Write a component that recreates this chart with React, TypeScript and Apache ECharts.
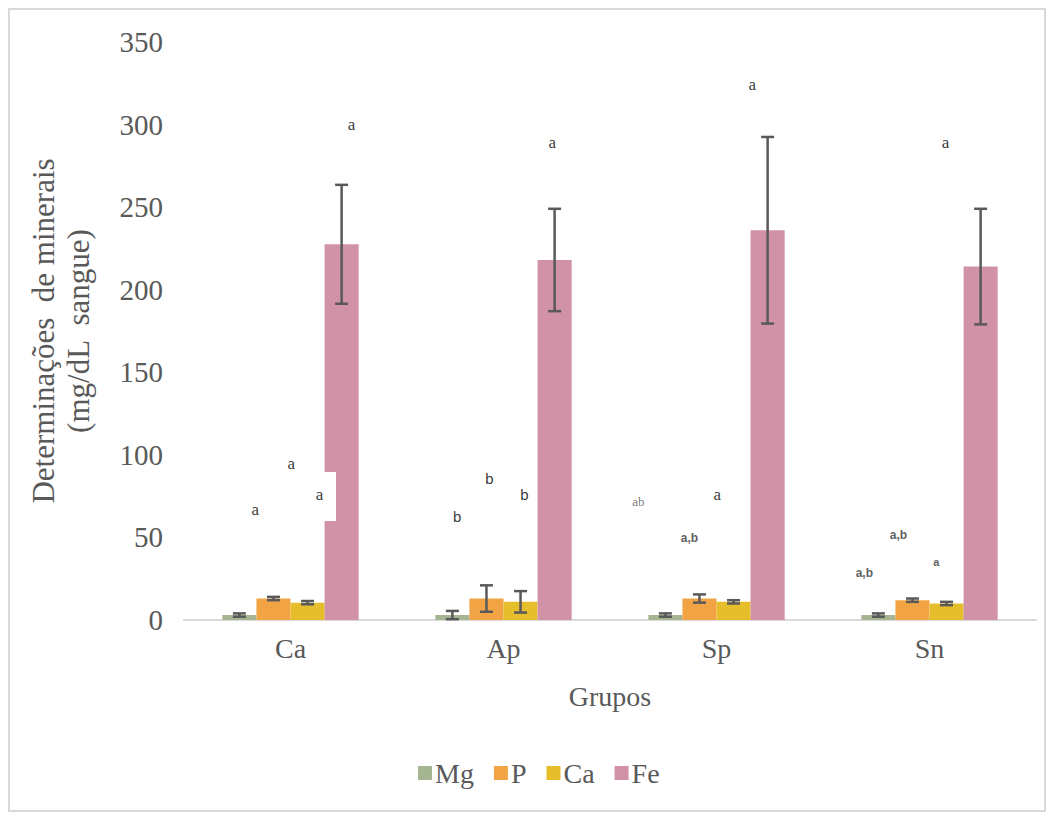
import React, { useEffect, useRef } from "react";
import * as echarts from "echarts";

const categories = ["Ca", "Ap", "Sp", "Sn"];
const seriesNames = ["Mg", "P", "Ca", "Fe"];
const mgValues = [3, 3, 3, 3];
const pValues = [13, 13, 13, 12];
const caValues = [10.5, 11, 11, 10];
const feValues = [227.5, 218, 236, 214];
const mgErr = [1, 2.5, 1, 1];
const pErr = [1, 8, 2.5, 1];
const caErr = [1, 6.5, 1, 1];
const feErr = [36, 31, 56.5, 35];
const colors = ["#a5b592", "#f2a445", "#e6bd2a", "#d192a8"];
const yTicks = [0, 50, 100, 150, 200, 250, 300, 350];

// significance letters: text, group index, offset within group, y value, style
const annotText = ["a", "a", "a", "a", "b", "b", "b", "a", "ab", "a,b", "a", "a", "a,b", "a,b", "a", "a"];
const annotGroup = [0, 0, 0, 0, 1, 1, 1, 1, 2, 2, 2, 2, 3, 3, 3, 3];
const annotOffset = [-0.165, 0.004, 0.136, 0.286, -0.217, -0.066, 0.098, 0.229, -0.367, -0.127, 0.004, 0.168, -0.306, -0.146, 0.032, 0.075];
const annotY = [67, 94.5, 75.7, 300, 62.4, 85.4, 75.7, 289, 72, 49.7, 75.7, 324, 28.5, 51.5, 35, 289];
const annotStyle = ["serif", "serif", "serif", "serif", "sans", "sans", "sans", "serif", "serifGray", "sansBold", "serif", "serif", "sansBold", "sansBold", "sansBoldSmall", "serif"];

const styleMap: Record<string, any> = {
  serif: { fontFamily: "Liberation Serif", fontSize: 17, color: "#000" },
  serifGray: { fontFamily: "Liberation Serif", fontSize: 13, color: "#555" },
  sans: { fontFamily: "Liberation Sans", fontSize: 15, color: "#000" },
  sansBold: { fontFamily: "Liberation Sans", fontSize: 12, fontWeight: "bold", color: "#333" },
  sansBoldSmall: { fontFamily: "Liberation Sans", fontSize: 11, fontWeight: "bold", color: "#333" },
};

export default function App() {
  const ref = useRef<HTMLDivElement>(null);
  useEffect(() => {
    if (!ref.current) return;
    const chart = echarts.init(ref.current, null, { renderer: "svg" });
    const values = [mgValues, pValues, caValues, feValues];
    const errs = [mgErr, pErr, caErr, feErr];
    const gap = 0.36;

    const barSeries = seriesNames.map((name, i) => ({
      name,
      type: "bar",
      data: values[i],
      barGap: "0%",
      barCategoryGap: gap * 100 + "%",
      itemStyle: { color: colors[i] },
      z: 2,
    }));

    const errSeries = seriesNames.map((name, i) => ({
      name: name + "_err",
      type: "custom",
      data: values[i].map((v, k) => [k, v, errs[i][k]]),
      z: 5,
      renderItem: (params: any, api: any) => {
        const k = api.value(0);
        const v = api.value(1);
        const e = api.value(2);
        const band = api.size([1, 0])[0];
        const bw = (band * (1 - gap)) / 4;
        const cx = api.coord([k, v])[0] + (i - 1.5) * bw;
        const yTop = api.coord([k, v + e])[1];
        const yBot = api.coord([k, Math.max(v - e, 0)])[1];
        const cap = 6.5;
        const st = { stroke: "#595959", lineWidth: 2.5 };
        return {
          type: "group",
          children: [
            { type: "line", shape: { x1: cx, y1: yTop, x2: cx, y2: yBot }, style: st },
            { type: "line", shape: { x1: cx - cap, y1: yTop, x2: cx + cap, y2: yTop }, style: st },
            { type: "line", shape: { x1: cx - cap, y1: yBot, x2: cx + cap, y2: yBot }, style: st },
          ],
        };
      },
    }));

    const annotSeries = {
      type: "scatter",
      xAxisIndex: 1,
      symbolSize: 0,
      silent: true,
      z: 6,
      data: annotText.map((t, i) => ({
        value: [annotGroup[i] + annotOffset[i], annotY[i]],
        label: {
          show: true,
          position: "inside",
          formatter: t,
          ...styleMap[annotStyle[i]],
        },
      })),
    };

    chart.setOption({
      animation: false,
      backgroundColor: "#fff",
      grid: { left: 184, right: 16, top: 42, bottom: 197 },
      legend: {
        data: seriesNames,
        top: 754,
        left: 413,
        itemWidth: 14,
        itemHeight: 14,
        itemGap: 20,
        icon: "rect",
        textStyle: { fontFamily: "Liberation Serif", fontSize: 28, color: "#595959", padding: [0, 0, 0, -2] },
      },
      xAxis: [
        {
          type: "category",
          data: categories,
          axisLine: { lineStyle: { color: "#d9d9d9", width: 2 } },
          axisTick: { show: false },
          axisLabel: { fontFamily: "Liberation Serif", fontSize: 28, color: "#595959", margin: 14 },
          name: "Grupos",
          nameLocation: "middle",
          nameGap: 62,
          nameTextStyle: { fontFamily: "Liberation Serif", fontSize: 28, color: "#595959" },
        },
        { type: "value", min: -0.5, max: 3.5, show: false },
      ],
      yAxis: {
        type: "value",
        min: 0,
        max: yTicks[yTicks.length - 1],
        interval: 50,
        splitLine: { show: false },
        axisLine: { show: false },
        axisTick: { show: false },
        axisLabel: { fontFamily: "Liberation Serif", fontSize: 29, color: "#595959", margin: 21 },
        name: "Determinações  de minerais\n(mg/dL  sangue)",
        nameLocation: "middle",
        nameGap: 88,
        nameTextStyle: { fontFamily: "Liberation Serif", fontSize: 31, color: "#595959", lineHeight: 35 },
      },
      graphic: [
        {
          type: "rect",
          shape: { x: 9, y: 9, width: 1036, height: 802 },
          style: { fill: "none", stroke: "#d9d9d9", lineWidth: 2 },
          z: 100,
        },
        {
          type: "rect",
          shape: { x: 323, y: 472, width: 13, height: 49 },
          style: { fill: "#ffffff" },
          z: 100,
        },
      ],
      series: [...barSeries, ...errSeries, annotSeries],
    });
    return () => chart.dispose();
  }, []);
  return (
    <div
      ref={ref}
      style={{ position: "absolute", left: 0, top: 0, width: 1052, height: 817 }}
    />
  );
}
